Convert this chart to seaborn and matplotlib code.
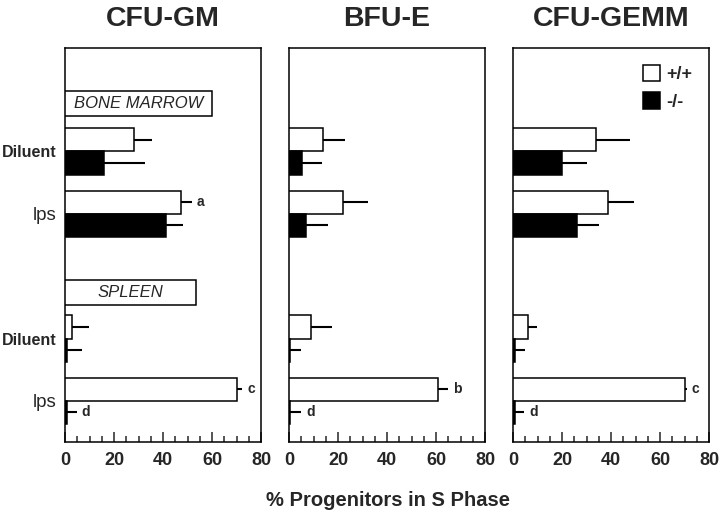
import matplotlib
matplotlib.use("Agg")
import matplotlib.pyplot as plt
from matplotlib.patches import Rectangle, Patch
from matplotlib.ticker import MultipleLocator
import seaborn as sns
import pandas as pd

sns.set_style("white")
plt.rcParams['font.family'] = ['Liberation Sans', 'DejaVu Sans']

# ---- data ----
panels = ["CFU-GM", "BFU-E", "CFU-GEMM"]
genotypes = ["+/+", "-/-"]
row_labels = ["Diluent", "lps", "Diluent", "lps"]
row_pos = [0, 1, 3, 4]  # bone marrow: Diluent, lps ; spleen: Diluent, lps
tissue_labels = ["BONE MARROW", "SPLEEN"]

# % progenitors in S phase (mean), per panel, rows as row_pos
wt_vals = {
    "CFU-GM":   [28.0, 47.3, 3.0, 70.4],
    "BFU-E":    [13.9, 21.9, 9.0, 61.0],
    "CFU-GEMM": [33.9, 38.9, 6.0, 70.0],
}
wt_err = {
    "CFU-GM":   [7.5, 4.5, 6.6, 2.0],
    "BFU-E":    [9.0, 10.5, 8.7, 3.9],
    "CFU-GEMM": [13.9, 10.4, 3.9, 1.0],
}
ko_vals = {
    "CFU-GM":   [16.0, 41.2, 0.8, 0.8],
    "BFU-E":    [5.2, 7.1, 0.5, 0.5],
    "CFU-GEMM": [20.0, 26.1, 0.7, 0.7],
}
ko_err = {
    "CFU-GM":   [16.8, 6.8, 6.0, 4.0],
    "BFU-E":    [8.4, 8.8, 4.5, 4.5],
    "CFU-GEMM": [10.0, 9.0, 4.2, 3.9],
}
# significance letters: (row index, genotype) -> letter
sig_letters = {
    "CFU-GM":   {(1, "+/+"): "a", (3, "+/+"): "c", (3, "-/-"): "d"},
    "BFU-E":    {(3, "+/+"): "b", (3, "-/-"): "d"},
    "CFU-GEMM": {(3, "+/+"): "c", (3, "-/-"): "d"},
}
x_ticks = [0, 20, 40, 60, 80]

# ---- layout ----
fig = plt.figure(figsize=(7.2, 5.16), dpi=100)
lefts = [65 / 720, 289 / 720, 513 / 720]
bottom = 1 - 442 / 516
height = (442 - 48) / 516
width = 196 / 720

for i, name in enumerate(panels):
    ax = fig.add_axes([lefts[i], bottom, width, height])
    recs = []
    for k, p in enumerate(row_pos):
        recs.append({"pos": p, "genotype": "+/+", "value": wt_vals[name][k], "err": wt_err[name][k], "row": k})
        recs.append({"pos": p, "genotype": "-/-", "value": ko_vals[name][k], "err": ko_err[name][k], "row": k})
    df = pd.DataFrame(recs)
    sns.barplot(data=df, x="value", y="pos", hue="genotype", hue_order=genotypes,
                orient="h", native_scale=True, palette=["white", "black"],
                edgecolor="black", linewidth=1.1, width=0.74, errorbar=None,
                legend=False, ax=ax, zorder=3)
    bars = sorted(ax.patches, key=lambda r: r.get_y() + r.get_height() / 2)
    ordered = df.sort_values(["pos", "genotype"], key=lambda s: s.map({"+/+": 0, "-/-": 1}) if s.name == "genotype" else s)
    for bar, (_, r) in zip(bars, ordered.iterrows()):
        yc = bar.get_y() + bar.get_height() / 2
        xe = bar.get_width()
        ax.plot([xe, xe + r["err"]], [yc, yc], color="black", lw=1.5, zorder=2,
                solid_capstyle="butt")
        letter = sig_letters[name].get((r["row"], r["genotype"]))
        if letter:
            ax.text(xe + r["err"] + 2.0, yc, letter, ha="left", va="center",
                    fontsize=10, fontweight="bold")

    ax.set_xlim(0, 80)
    ax.set_ylim(4.66, -1.66)
    ax.set_xticks(x_ticks)
    ax.set_xticklabels([str(t) for t in x_ticks], fontsize=13, fontweight="bold")
    ax.xaxis.set_minor_locator(MultipleLocator(5))
    ax.tick_params(axis="x", which="major", direction="in", length=7.5, width=1.1,
                   bottom=True, pad=7)
    ax.tick_params(axis="x", which="minor", direction="in", length=4, width=1.1, bottom=True)
    ax.set_xlabel("")
    ax.set_ylabel("")
    for s in ax.spines.values():
        s.set_color("black")
        s.set_linewidth(1.1)
    ax.set_title(name, fontsize=20.5, fontweight="bold", pad=16)
    ax.grid(False)

    if i == 0:
        ax.set_yticks(row_pos)
        ax.set_yticklabels(row_labels, fontsize=11.5)
        for t, lab in zip(ax.get_yticklabels(), row_labels):
            t.set_fontweight("bold" if lab == "Diluent" else "normal")
            if lab == "lps":
                t.set_fontsize(13.5)
        ax.tick_params(axis="y", length=0, pad=6)
        box_specs = [(-0.77, 60.0), (2.26, 53.6)]
        for (yc, xr), lab in zip(box_specs, tissue_labels):
            ax.add_patch(Rectangle((0, yc - 0.2), xr, 0.4, facecolor="white",
                                   edgecolor="black", linewidth=1.1, zorder=3))
            ax.text(xr / 2, yc, lab, ha="center", va="center", fontsize=12,
                    fontstyle="italic", zorder=4)
    else:
        ax.set_yticks([])

    if i == 2:
        handles = [Patch(facecolor="white", edgecolor="black", linewidth=1.1),
                   Patch(facecolor="black", edgecolor="black", linewidth=1.1)]
        leg = ax.legend(handles, genotypes, loc="upper left", bbox_to_anchor=(0.665, 0.958),
                        frameon=False, fontsize=13, handlelength=0.95, handleheight=1.05,
                        handletextpad=0.3, labelspacing=0.5, borderpad=0, borderaxespad=0)
        for t in leg.get_texts():
            t.set_fontweight("bold")

fig.text(387.5 / 720, 1 - 501 / 516, "% Progenitors in S Phase", ha="center", va="center",
         fontsize=14.5, fontweight="bold")

fig.savefig("out.png", dpi=100)
